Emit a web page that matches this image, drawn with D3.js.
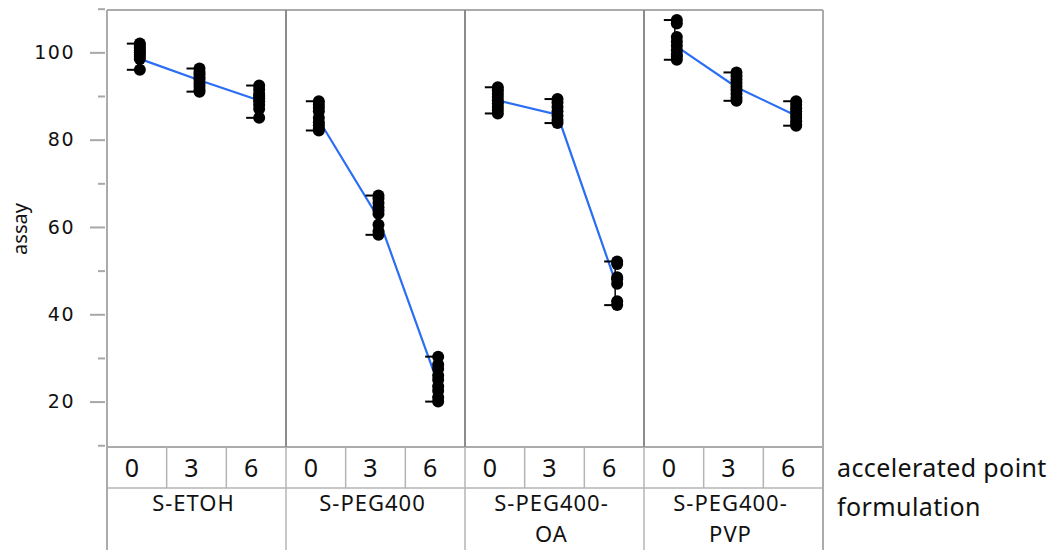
<!DOCTYPE html>
<html>
<head>
<meta charset="utf-8">
<script src="https://cdn.jsdelivr.net/npm/d3@7"></script>
<style>
  html, body { margin: 0; padding: 0; background: #fff; }
  svg { display: block; }
</style>
</head>
<body>
<svg id="chart" width="1061" height="550"></svg>
<script>
// ---------- DATA ----------
const formulations = ["S-ETOH", "S-PEG400", "S-PEG400-OA", "S-PEG400-PVP"];
const formulationLines = [["S-ETOH"], ["S-PEG400"], ["S-PEG400-", "OA"], ["S-PEG400-", "PVP"]];
const timePoints = ["0", "3", "6"];
const yTicks = [20, 40, 60, 80, 100];
const yMinorTicks = [10, 30, 50, 70, 90, 110];

// assay readings per formulation, per accelerated point
const assayETOH = [
  [102, 101.5, 101, 100.5, 100, 99.5, 99, 98.5, 96],
  [96.3, 95.5, 95, 94.3, 93.8, 93, 92.3, 91.5, 91],
  [92.4, 91.5, 90.5, 90, 89.5, 88.8, 88, 87, 85]
];
const assayPEG400 = [
  [88.8, 88, 87.3, 86.5, 85, 84, 83.3, 82.5, 82.1],
  [67.2, 66.5, 65.5, 64.5, 63.8, 63, 60.5, 59, 58.2],
  [30.3, 28.5, 27.5, 26, 25, 23.5, 22.5, 21, 20]
];
const assayPEG400OA = [
  [92, 91.3, 90.5, 89.8, 89, 88.3, 87.5, 86.8, 86],
  [89.3, 88.5, 87.5, 86.5, 85.5, 84.5, 83.8],
  [52.1, 51.5, 48.5, 48, 47, 43, 42.1]
];
const assayPEG400PVP = [
  [107.4, 106.6, 103.5, 102.5, 101.5, 100.5, 99.5, 99, 98.3],
  [95.4, 94.6, 93.8, 93, 92.2, 91.4, 90.5, 89.6, 88.9],
  [88.8, 88, 87.2, 86.5, 85.7, 85, 84.2, 83.5, 83.2]
];
// mean line values
const meanETOH = [98.5, 93.6, 89.0];
const meanPEG400 = [84.5, 62.0, 24.0];
const meanPEG400OA = [89.0, 85.7, 46.3];
const meanPEG400PVP = [101.3, 92.0, 85.5];

const assayAll = [assayETOH, assayPEG400, assayPEG400OA, assayPEG400PVP];
const meansAll = [meanETOH, meanPEG400, meanPEG400OA, meanPEG400PVP];

// ---------- LAYOUT ----------
const svg = d3.select("#chart");
const L = 107, R = 823, T = 10, B = 447;
const row1B = 488, tableB = 550;
const frameCol = "#ababab", divCol = "#8c8c8c", tableCol = "#b4b4b4";
const labFont = "'Noto Sans', 'Open Sans', sans-serif";
const labSize = "25px";

const xF = d3.scaleBand().domain(formulations).range([L, R]).padding(0);
const xT = d3.scaleBand().domain(timePoints).range([0, xF.bandwidth()]).padding(0);
const y = d3.scaleLinear().domain([9.6, 109.7]).range([B, T]);
const ptOffset = 3;
const cx = (fi, ti) => xF(formulations[fi]) + xT(timePoints[ti]) + xT.bandwidth() / 2 + ptOffset;

// ---------- Y AXIS ----------
const yAxis = d3.axisLeft(y).tickValues(yTicks).tickSize(15).tickPadding(15).tickFormat(d3.format("d"));
const gA = svg.append("g").attr("transform", `translate(${L - 2},0)`).call(yAxis);
gA.select(".domain").remove();
gA.selectAll(".tick line").attr("stroke", "#a8a8a8").attr("stroke-width", 2);
gA.selectAll(".tick text")
  .attr("fill", "#111")
  .style("font-family", "'DejaVu Sans', sans-serif")
  .style("font-size", "19px")
  .style("letter-spacing", "1.5px");
const yMinor = d3.axisLeft(y).tickValues(yMinorTicks).tickSize(7).tickFormat("");
const gM = svg.append("g").attr("transform", `translate(${L - 2},0)`).call(yMinor);
gM.select(".domain").remove();
gM.selectAll(".tick line").attr("stroke", "#a8a8a8").attr("stroke-width", 2);

svg.append("text")
  .attr("transform", `translate(27,${(y(60) + 2)}) rotate(-90)`)
  .attr("text-anchor", "middle")
  .style("font-family", labFont)
  .style("font-size", "20px")
  .attr("fill", "#111")
  .text("assay");

// ---------- FRAME ----------
svg.append("line").attr("x1", L).attr("x2", R).attr("y1", T).attr("y2", T)
  .attr("stroke", frameCol).attr("stroke-width", 2);
svg.append("line").attr("x1", L).attr("x2", L).attr("y1", T).attr("y2", tableB)
  .attr("stroke", frameCol).attr("stroke-width", 2);
svg.append("line").attr("x1", R).attr("x2", R).attr("y1", T).attr("y2", tableB)
  .attr("stroke", frameCol).attr("stroke-width", 2);
svg.append("line").attr("x1", L).attr("x2", R).attr("y1", B).attr("y2", B)
  .attr("stroke", frameCol).attr("stroke-width", 2);
// panel dividers
formulations.slice(1).forEach(f => {
  svg.append("line").attr("x1", xF(f)).attr("x2", xF(f)).attr("y1", T).attr("y2", B)
    .attr("stroke", divCol).attr("stroke-width", 2);
});

// ---------- TABLE ----------
svg.append("line").attr("x1", L).attr("x2", R).attr("y1", row1B).attr("y2", row1B)
  .attr("stroke", tableCol).attr("stroke-width", 1.5);
formulations.forEach((f, fi) => {
  const x0 = xF(f);
  timePoints.forEach((t, ti) => {
    const xs = x0 + xT(t);
    if (!(fi === 0 && ti === 0)) {
      svg.append("line").attr("x1", xs).attr("x2", xs).attr("y1", B).attr("y2", row1B)
        .attr("stroke", tableCol).attr("stroke-width", 1.5);
    }
    svg.append("text")
      .attr("x", xs + xT.bandwidth() / 2 - 5)
      .attr("y", 477)
      .attr("text-anchor", "middle")
      .style("font-family", labFont).style("font-size", labSize).attr("fill", "#111")
      .text(t);
  });
  if (fi > 0) {
    svg.append("line").attr("x1", x0).attr("x2", x0).attr("y1", row1B).attr("y2", tableB)
      .attr("stroke", tableCol).attr("stroke-width", 1.5);
  }
  const t = svg.append("text")
    .attr("x", x0 + xF.bandwidth() / 2 - 3)
    .attr("y", 511)
    .attr("text-anchor", "middle")
    .style("font-family", labFont).style("font-size", "22px").attr("fill", "#111")
    .style("letter-spacing", "1px");
  formulationLines[fi].forEach((ln, li) => {
    t.append("tspan")
      .attr("x", x0 + xF.bandwidth() / 2 - 3)
      .attr("dy", li === 0 ? 0 : 30.5)
      .text(ln);
  });
});
svg.append("text").attr("x", 837).attr("y", 477)
  .style("font-family", labFont).style("font-size", labSize).attr("fill", "#111")
  .style("letter-spacing", "0.4px")
  .text("accelerated point");
svg.append("text").attr("x", 837).attr("y", 516)
  .style("font-family", labFont).style("font-size", labSize).attr("fill", "#111")
  .style("letter-spacing", "0.4px")
  .text("formulation");

// ---------- DATA MARKS ----------
const line = d3.line().x(d => d[0]).y(d => d[1]);
assayAll.forEach((groups, fi) => {
  const g = svg.append("g");
  // mean line
  g.append("path")
    .datum(meansAll[fi].map((m, ti) => [cx(fi, ti), y(m)]))
    .attr("d", line).attr("fill", "none").attr("stroke", "#2a6ef5").attr("stroke-width", 2.2);
  groups.forEach((vals, ti) => {
    const c = cx(fi, ti);
    const mn = d3.min(vals), mx = d3.max(vals);
    g.append("line").attr("x1", c - 2).attr("x2", c - 2).attr("y1", y(mx)).attr("y2", y(mn))
      .attr("stroke", "#000").attr("stroke-width", 1.5);
    [mn, mx].forEach(v => {
      g.append("line").attr("x1", c - 13).attr("x2", c - 2).attr("y1", y(v)).attr("y2", y(v))
        .attr("stroke", "#000").attr("stroke-width", 2);
    });
    g.selectAll(null).data(vals).enter().append("circle")
      .attr("cx", c).attr("cy", d => y(d)).attr("r", 6).attr("fill", "#000");
  });
});
</script>
</body>
</html>
